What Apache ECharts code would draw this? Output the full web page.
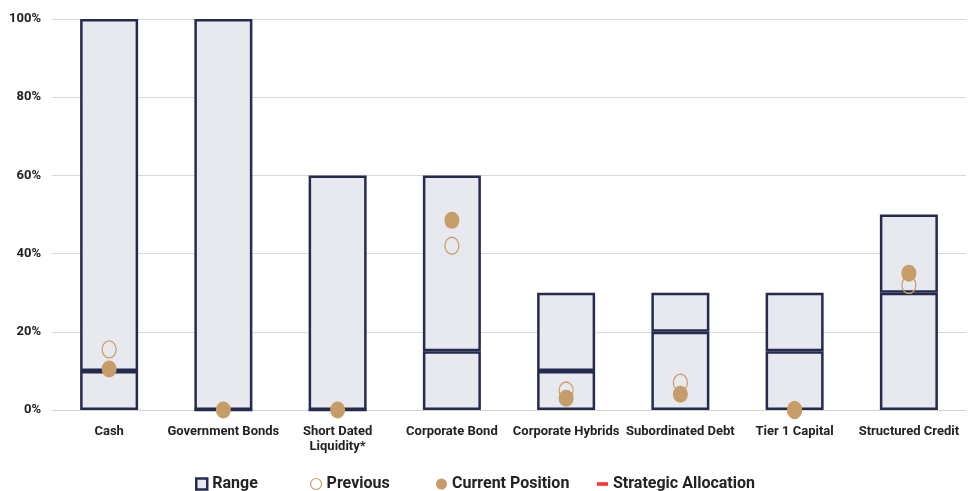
<!DOCTYPE html>
<html>
<head>
<meta charset="utf-8">
<script src="https://cdn.jsdelivr.net/npm/echarts@6/dist/echarts.min.js"></script>
<style>
  html, body { margin: 0; padding: 0; background: #fff; }
  #chart { width: 971px; height: 491px; }
</style>
</head>
<body>
<div id="chart"></div>
<script>
  const categories = ['Cash', 'Government Bonds', 'Short Dated\nLiquidity*', 'Corporate Bond',
    'Corporate Hybrids', 'Subordinated Debt', 'Tier 1 Capital', 'Structured Credit'];
  const rangeLow = [10, 0, 0, 15, 10, 20, 15, 30];
  const rangeHigh = [100, 100, 60, 60, 30, 30, 30, 50];
  const previous = [15.5, null, null, 42, 5, 7, 0, 32];
  const current = [10.5, 0, 0, 48.5, 3, 4, 0, 35];
  const strategic = [];

  const navy = '#252b4f';
  const fill = '#e8e8ef';
  const gold = '#c69d68';

  const chart = echarts.init(document.getElementById('chart'));
  const font = 'Roboto, sans-serif';

  // one legend per entry so the uneven spacing of the original can be kept
  const legendText = { color: '#222', fontSize: 16, fontWeight: 'bold', fontFamily: font };
  const makeLegend = (left, item) => ({
    top: 471,
    left: left,
    itemWidth: 11,
    itemHeight: 11,
    itemGap: 0,
    textStyle: legendText,
    data: [item],
  });

  const option = {
    animation: false,
    grid: { left: 52, right: 5, top: 19, bottom: 81 },
    xAxis: {
      type: 'category',
      data: categories,
      axisTick: { show: false },
      axisLine: { lineStyle: { color: '#d4d4d4', width: 1 } },
      axisLabel: { color: '#222', fontSize: 13, fontWeight: 'bold', fontFamily: font, margin: 14, interval: 0, lineHeight: 15 },
    },
    yAxis: {
      type: 'value',
      min: 0,
      max: 100,
      interval: 20,
      axisLabel: { formatter: '{value}%', color: '#222', fontSize: 13, fontWeight: 'bold', fontFamily: font, margin: 11 },
      splitLine: { lineStyle: { color: '#d9d9d9', width: 1 } },
      axisLine: { show: false },
      axisTick: { show: false },
    },
    legend: [
      makeLegend(190, { name: 'Range', icon: 'rect', itemStyle: { color: fill, borderColor: navy, borderWidth: 2.5 } }),
      makeLegend(305, { name: 'Previous', icon: 'circle', itemStyle: { color: '#fff', borderColor: gold, borderWidth: 1.2 } }),
      makeLegend(431, { name: 'Current Position', icon: 'circle' }),
      makeLegend(592, { name: 'Strategic Allocation', icon: 'path://M0,4 h12 v4 h-12 z', itemStyle: { color: '#ff0000' } }),
    ],
    series: [
      {
        name: 'Range',
        type: 'bar',
        stack: 'range',
        barWidth: 58,
        data: rangeLow,
        itemStyle: { color: fill, borderColor: navy, borderWidth: 2.5 },
      },
      {
        name: 'Range',
        type: 'bar',
        stack: 'range',
        barWidth: 58,
        data: rangeHigh.map((h, i) => h - rangeLow[i]),
        itemStyle: { color: fill, borderColor: navy, borderWidth: 2.5 },
      },
      {
        name: 'Previous',
        type: 'scatter',
        data: previous,
        symbol: 'circle',
        symbolSize: [14, 17],
        itemStyle: { color: 'rgba(0,0,0,0)', opacity: 1, borderColor: gold, borderWidth: 1.3 },
        z: 3,
      },
      {
        name: 'Current Position',
        type: 'scatter',
        data: current,
        symbol: 'circle',
        symbolSize: [15, 17],
        itemStyle: { color: gold, opacity: 1 },
        z: 4,
      },
      {
        name: 'Strategic Allocation',
        type: 'scatter',
        data: strategic,
        itemStyle: { color: '#ff0000' },
      },
    ],
  };

  chart.setOption(option);
</script>
</body>
</html>
